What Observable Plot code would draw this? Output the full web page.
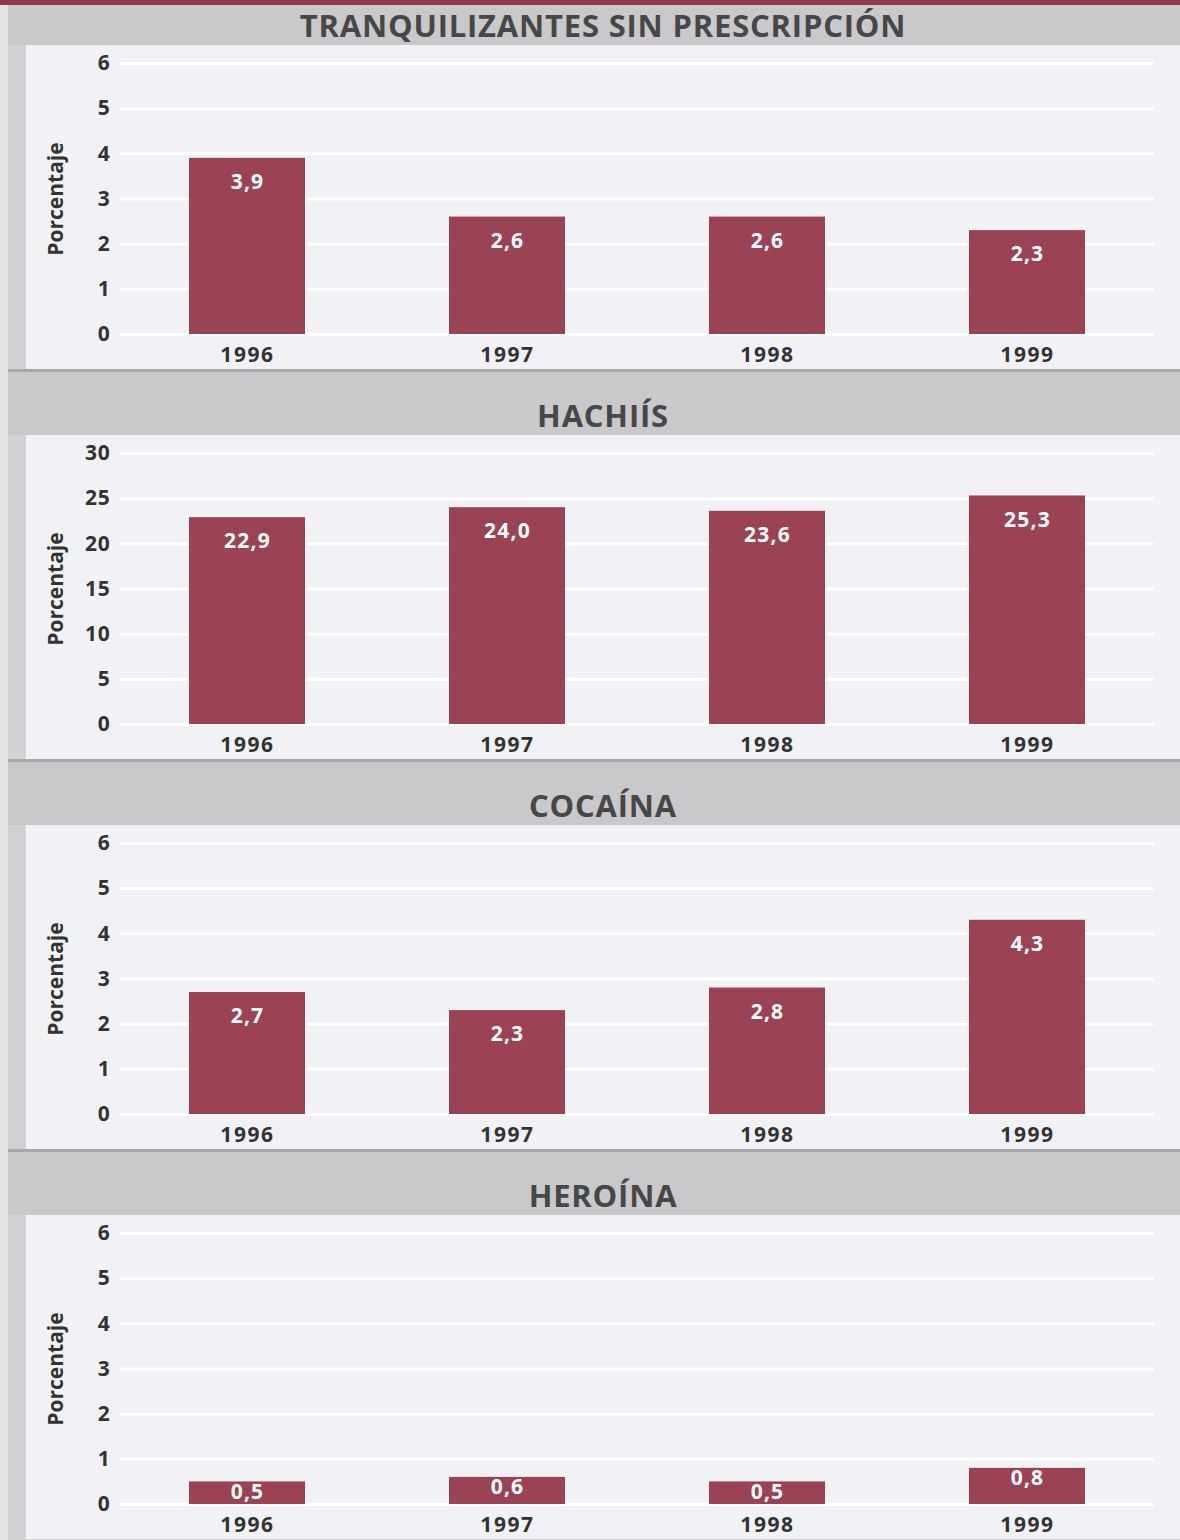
<!DOCTYPE html>
<html>
<head>
<meta charset="utf-8">
<script src="https://cdn.jsdelivr.net/npm/d3@7"></script>
<script src="https://cdn.jsdelivr.net/npm/@observablehq/plot@0.6"></script>
<style>
  html, body { margin: 0; padding: 0; }
  body {
    width: 1180px; height: 1540px; overflow: hidden;
    background: #d2d2d5;
    font-family: "Open Sans", "Noto Sans", sans-serif;
    position: relative;
  }
  #topbar { height: 5px; background: #8e3a48; }
  #leftstrip { position: absolute; left: 0; top: 5px; width: 8px; bottom: 0; background: #e4e4e7; }
  .header {
    margin-left: 8px;
    background: #c9c9cc;
    position: relative;
    color: #474747;
    font-weight: 700;
    font-size: 31px;
    letter-spacing: 0.8px;
    text-align: center;
  }
  .header.first { height: 40px; }
  .header.other { height: 66px; border-top: 3px solid #a8a8ab; box-sizing: border-box; }
  .header span { position: absolute; left: 18px; right: 0; bottom: 2px; line-height: 36px; }
  .plotwrap { margin-left: 26px; background: #f2f2f6; height: 324px; }
  .plotwrap svg { display: block; }
  .plotwrap svg g[aria-label="x-axis tick label"] text { letter-spacing: 1.6px; }
  .plotwrap svg g[aria-label="y-axis tick label"] text { letter-spacing: 0.8px; }
  .plotwrap svg g[aria-label="text"] text { letter-spacing: 1.2px; }
</style>
</head>
<body>
<div id="topbar"></div>
<div id="leftstrip"></div>
<div id="chart"></div>
<script>
const years = ["1996", "1997", "1998", "1999"];
const titles = ["TRANQUILIZANTES SIN PRESCRIPCIÓN", "HACHIÍS", "COCAÍNA", "HEROÍNA"];
const tranquilizantes = [3.9, 2.6, 2.6, 2.3];
const hachis = [22.9, 24.0, 23.6, 25.3];
const cocaina = [2.7, 2.3, 2.8, 4.3];
const heroina = [0.5, 0.6, 0.5, 0.8];
const ticksSmall = [0, 1, 2, 3, 4, 5, 6];
const ticksHachis = [0, 5, 10, 15, 20, 25, 30];
const yLabel = "Porcentaje";

const panels = [
  {title: titles[0], values: tranquilizantes, ticks: ticksSmall, labelDy: 24},
  {title: titles[1], values: hachis, ticks: ticksHachis, labelDy: 24},
  {title: titles[2], values: cocaina, ticks: ticksSmall, labelDy: 24},
  {title: titles[3], values: heroina, ticks: ticksSmall, labelDy: 10}
];

const fmt = v => v.toFixed(1).replace(".", ",");
const chart = document.getElementById("chart");

panels.forEach((p, i) => {
  const header = document.createElement("div");
  header.className = "header " + (i === 0 ? "first" : "other");
  const span = document.createElement("span");
  span.textContent = p.title;
  header.appendChild(span);
  chart.appendChild(header);

  const data = years.map((y, j) => ({year: y, value: p.values[j]}));
  const wrap = document.createElement("div");
  wrap.className = "plotwrap";

  const plot = Plot.plot({
    width: 1154,
    height: 324,
    marginLeft: 94,
    marginRight: 26,
    marginTop: 18,
    marginBottom: 35,
    style: {background: "transparent", fontFamily: "'Open Sans', 'Noto Sans', sans-serif", overflow: "visible"},
    x: {domain: years, paddingInner: 0.552, paddingOuter: 0.257},
    y: {domain: [p.ticks[0], p.ticks[p.ticks.length - 1]]},
    marks: [
      Plot.ruleY(p.ticks, {stroke: "#ffffff", strokeWidth: 3}),
      Plot.barY(data, {x: "year", y: "value", fill: "#9b4254"}),
      Plot.text(data, {x: "year", y: "value", text: d => fmt(d.value), dy: p.labelDy,
        fill: "#ffffff", fontSize: 21, fontWeight: "bold"}),
      Plot.axisY({ticks: p.ticks, tickFormat: d3.format("d"), tickSize: 0, tickPadding: 10, fontSize: 21,
        fontWeight: "bold",
        fill: "#333333", label: yLabel, labelAnchor: "center", labelArrow: "none", labelOffset: 72}),
      Plot.axisX({tickSize: 0, tickPadding: 13, fontSize: 21, fontWeight: "bold", fill: "#333333", label: null})
    ]
  });
  wrap.appendChild(plot);
  chart.appendChild(wrap);
});
</script>
</body>
</html>
